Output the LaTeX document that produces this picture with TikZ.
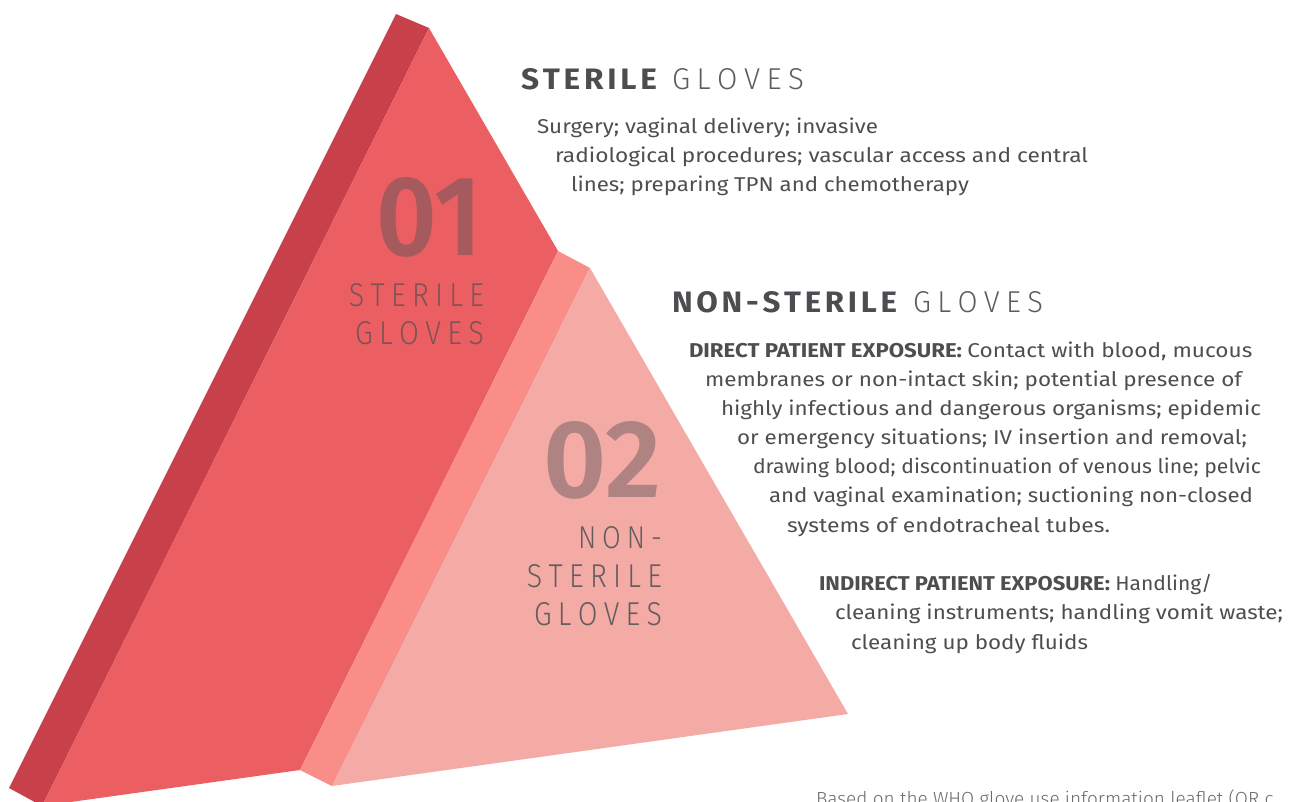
\documentclass[tikz,border=0pt]{standalone}
\usepackage{fontspec}
\usepackage{graphicx}
\setmainfont{Fira Sans}
\newfontfamily\lightf{Fira Sans Light}
\definecolor{dside}{HTML}{C8414A}
\definecolor{bfront}{HTML}{EB5F62}
\definecolor{mside}{HTML}{F98D88}
\definecolor{lfront}{HTML}{F4AAA5}
\definecolor{txt}{HTML}{4E4E4E}
\definecolor{hdtxt}{HTML}{4B4D50}
\definecolor{hdlight}{HTML}{5B5D60}
\definecolor{numA}{HTML}{A65A5E}
\definecolor{numB}{HTML}{AF8381}
\definecolor{inA}{HTML}{7E5356}
\definecolor{inB}{HTML}{635E5E}
\definecolor{foot}{HTML}{6A6A6A}
\newcommand\fw[2]{\resizebox{#1pt}{\height}{#2}}
\newcommand\fb[3]{\resizebox{#1pt}{#2pt}{#3}}
\newcommand\sk{\kern.12em}
\newcommand\lk{\kern.22em}
\tikzset{
  tx/.style={anchor=base west, inner sep=0pt, outer sep=0pt, text=txt, font=\fontsize{20}{20}\selectfont},
  tr/.style={anchor=base east, inner sep=0pt, outer sep=0pt, font=\fontsize{30}{30}\lightf},
  hd/.style={anchor=base west, inner sep=0pt, outer sep=0pt, font=\fontsize{30}{30}\selectfont},
}
\begin{document}
\begin{tikzpicture}[x=1pt,y=-1pt]
\useasboundingbox (0,0) rectangle (1298,801);
\begin{scope}
\clip (0,0) rectangle (1298,801);
% sterile prism
\fill[dside] (396,14) -- (429,28) -- (42,806) -- (9,788) -- cycle;
\fill[bfront] (429,28) -- (558,251) -- (300,770) -- (42,806) -- cycle;
% non-sterile prism
\fill[mside] (558,251) -- (590,268) -- (332,786) -- (300,770) -- cycle;
\fill[lfront] (590,268) -- (848,714) -- (332,786) -- cycle;

% inner labels
\node[tr, text=numA] (n01) at (482,255) {\fb{106}{78}{\fontsize{100}{100}\selectfont\bfseries 01}};
\node[tr, text=inA] (s1) at (484,306) {\fb{135}{23}{S\lk T\lk E\lk R\lk I\lk L\lk E}};
\node[tr, text=inA] (g1) at (484,344) {\fb{129}{23}{G\lk L\lk O\lk V\lk E\lk S}};
\node[tr, text=numB] (n02) at (661,497) {\fb{118}{76}{\fontsize{100}{100}\selectfont\bfseries 02}};
\node[tr, text=inB] (ns2) at (662,548) {\fb{84}{22}{N\lk O\lk N\lk -}};
\node[tr, text=inB] (s2) at (662,587) {\fb{135}{23}{S\lk T\lk E\lk R\lk I\lk L\lk E}};
\node[tr, text=inB] (g2) at (662,625) {\fb{128}{23}{G\lk L\lk O\lk V\lk E\lk S}};

% heading 1
\node[hd, text=hdtxt] (h1a) at (521,89) {\fb{136}{21}{\bfseries S\sk T\sk E\sk R\sk I\sk L\sk E}};
\node[hd, text=hdlight] (h1b) at (672,89) {\fb{132}{21}{\lightf G\lk L\lk O\lk V\lk E\lk S}};
\node[tx] (a1) at (537,133) {\fw{341}{Surgery; vaginal delivery; invasive}};
\node[tx] (a2) at (555,162) {\fw{533}{radiological procedures; vascular access and central}};
\node[tx] (a3) at (571,191) {\fw{398}{lines; preparing TPN and chemotherapy}};

% heading 2
\node[hd, text=hdtxt] (h2a) at (672,312) {\fb{225}{21}{\bfseries N\sk O\sk N\sk -\sk S\sk T\sk E\sk R\sk I\sk L\sk E}};
\node[hd, text=hdlight] (h2b) at (913,312) {\fb{130}{21}{\lightf G\lk L\lk O\lk V\lk E\lk S}};
\node[tx] (b1) at (689,357) {\fw{273}{\bfseries DIRECT PATIENT EXPOSURE:}\ \fw{285}{Contact with blood, mucous}};
\node[tx] (b2) at (705,386) {\fw{537}{membranes or non-intact skin; potential presence of}};
\node[tx] (b3) at (721,415) {\fw{540}{highly infectious and dangerous organisms; epidemic}};
\node[tx] (b4) at (737,444) {\fw{510}{or emergency situations; IV insertion and removal;}};
\node[tx] (b5) at (753,473) {\fw{508}{drawing blood; discontinuation of venous line; pelvic}};
\node[tx] (b6) at (769,502) {\fw{484}{and vaginal examination; suctioning non-closed}};
\node[tx] (b7) at (787,532) {\fw{323}{systems of endotracheal tubes.}};
\node[tx] (c1) at (819,590) {\fw{291}{\bfseries INDIRECT PATIENT EXPOSURE:}\ \fw{97}{Handling/}};
\node[tx] (c2) at (835,619) {\fw{448}{cleaning instruments; handling vomit waste;}};
\node[tx] (c3) at (851,649) {\fw{237}{cleaning up body fluids}};

% footer (cut by the picture's lower and right edges, as in the reference)
\node[tx, text=foot, font=\fontsize{19}{19}\lightf] (ft) at (816,805) {Based on the WHO glove use information leaflet (OR c};
\end{scope}
\end{tikzpicture}
\end{document}
